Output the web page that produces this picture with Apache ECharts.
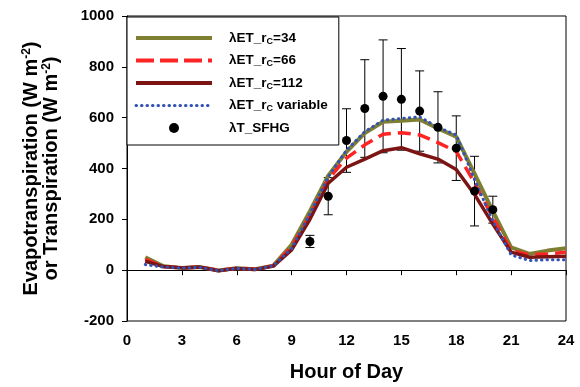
<!DOCTYPE html>
<html>
<head>
<meta charset="utf-8">
<script src="https://cdn.jsdelivr.net/npm/echarts@6/dist/echarts.min.js"></script>
<style>
html,body{margin:0;padding:0;background:#fff;}
#chart{width:580px;height:387px;}
</style>
</head>
<body>
<div id="chart"></div>
<script>
// ---- data ----
const hours = [1,2,3,4,5,6,7,8,9,10,11,12,13,14,15,16,17,18,19,20,21,22,23,24];
const et_rc34  = [51,15,9,12,-1,8,4,18,100,232,372,466,539,584,588,593,558,525,380,232,90,64,77,86];
const et_rc66  = [42,14,9,12,-1,8,4,17,92,215,358,441,493,535,541,532,502,467,344,207,77,60,64,71];
const et_rc112 = [35,14,9,12,-2,7,3,16,80,200,342,405,437,470,482,458,437,396,298,181,71,51,53,55];
const et_rcVar = [22,12,8,11,-2,7,3,17,85,222,367,472,545,590,597,603,562,532,356,194,60,38,41,41];
const obsHours = [10,11,12,13,14,15,16,17,18,19,20];
const obsMean  = [113,291,510,636,684,672,626,562,480,311,238];
const obsErr   = [24,73,125,192,222,200,158,140,127,137,53];
const xTicks = [0,3,6,9,12,15,18,21,24];
const yTicks = [-200,0,200,400,600,800,1000];
const seriesNames = ['λET_rc=34','λET_rc=66','λET_rc=112','λET_rc variable','λT_SFHG'];
const legendRich = {
  'λET_rc=34': '{g| }{t|λET_r}{s|C}{t|=34}',
  'λET_rc=66': '{g| }{t|λET_r}{s|C}{t|=66}',
  'λET_rc=112': '{g| }{t|λET_r}{s|C}{t|=112}',
  'λET_rc variable': '{g| }{t|λET_r}{s|C}{t| variable}',
  'λT_SFHG': '{g| }{t|λT_SFHG}'
};

const FONT = 'Liberation Sans, Arial, sans-serif';
const pair = (xs, ys) => xs.map((x, i) => [x, ys[i]]);
const errData = obsHours.map((h, i) => [h, obsMean[i] - obsErr[i], obsMean[i] + obsErr[i]]);
const hideSym = {color: 'rgba(0,0,0,0)', borderColor: 'rgba(0,0,0,0)', borderWidth: 0, opacity: 0};

const chart = echarts.init(document.getElementById('chart'), null, {renderer: 'canvas'});
chart.setOption({
  animation: false,
  backgroundColor: '#fff',
  grid: {left: 127, right: 14, top: 16, bottom: 65, show: true, borderColor: '#000', borderWidth: 1, backgroundColor: 'transparent'},
  xAxis: {
    type: 'value', min: xTicks[0], max: xTicks[xTicks.length - 1], interval: 3,
    name: 'Hour of Day', nameLocation: 'middle', nameGap: 41,
    nameTextStyle: {fontFamily: FONT, fontWeight: 'bold', fontSize: 20, color: '#000'},
    axisLine: {lineStyle: {color: '#000', width: 1}},
    axisTick: {show: true, length: 5, lineStyle: {color: '#000'}},
    axisLabel: {fontFamily: FONT, fontWeight: 'bold', fontSize: 15, color: '#000', margin: 12,
      formatter: v => String(v)},
    splitLine: {show: false}
  },
  yAxis: {
    type: 'value', min: yTicks[0], max: yTicks[yTicks.length - 1], interval: 200,
    name: '{t|Evapotranspiration (W m}{p|-2}{t|)}\n{t|or Transpiration (W m}{p|-2}{t|)}',
    nameLocation: 'middle', nameGap: 66,
    nameTextStyle: {
      fontFamily: FONT, fontWeight: 'bold', fontSize: 20, color: '#000', lineHeight: 20,
      rich: {
        t: {fontFamily: FONT, fontWeight: 'bold', fontSize: 20, color: '#000', lineHeight: 20},
        p: {fontFamily: FONT, fontWeight: 'bold', fontSize: 12, color: '#000', lineHeight: 10, verticalAlign: 'top'}
      }
    },
    axisLine: {show: true, lineStyle: {color: '#000', width: 1}},
    axisTick: {show: true, length: 5, lineStyle: {color: '#000'}},
    axisLabel: {fontFamily: FONT, fontWeight: 'bold', fontSize: 15, color: '#000', margin: 13,
      formatter: v => String(v)},
    splitLine: {show: false}
  },
  legend: {
    orient: 'vertical', left: 127, top: 17, padding: [13, 11, 9, 7],
    itemWidth: 76, itemHeight: 10, itemGap: 6.5,
    backgroundColor: '#fff', borderColor: '#000', borderWidth: 1, borderRadius: 0,
    data: [
      {name: seriesNames[0], itemStyle: hideSym, lineStyle: {width: 4}},
      {name: seriesNames[1], itemStyle: hideSym, lineStyle: {width: 4, type: [18, 6]}},
      {name: seriesNames[2], itemStyle: hideSym, lineStyle: {width: 4}},
      {name: seriesNames[3], itemStyle: hideSym, lineStyle: {width: 3, type: [0.5, 5], cap: 'round'}},
      {name: seriesNames[4]}
    ],
    formatter: name => legendRich[name],
    textStyle: {
      fontFamily: FONT, fontWeight: 'bold', fontSize: 13.5, color: '#000', lineHeight: 16,
      rich: {
        g: {width: 12, fontSize: 13.5, lineHeight: 16},
        t: {fontFamily: FONT, fontWeight: 'bold', fontSize: 13.5, color: '#000', lineHeight: 16},
        s: {fontFamily: FONT, fontWeight: 'bold', fontSize: 9, color: '#000', lineHeight: 10, verticalAlign: 'bottom'}
      }
    }
  },
  series: [
    {
      name: 'err', type: 'custom', z: 1, silent: true,
      data: errData,
      encode: {x: 0, y: [1, 2]},
      renderItem: function (params, api) {
        const x = api.value(0);
        const top = api.coord([x, api.value(2)]);
        const bot = api.coord([x, api.value(1)]);
        const cw = 4.5;
        const st = {stroke: '#000', lineWidth: 1};
        return {type: 'group', children: [
          {type: 'line', shape: {x1: top[0], y1: top[1], x2: bot[0], y2: bot[1]}, style: st},
          {type: 'line', shape: {x1: top[0] - cw, y1: top[1], x2: top[0] + cw, y2: top[1]}, style: st},
          {type: 'line', shape: {x1: bot[0] - cw, y1: bot[1], x2: bot[0] + cw, y2: bot[1]}, style: st}
        ]};
      }
    },
    {name: seriesNames[0], type: 'line', symbol: 'none', z: 2, data: pair(hours, et_rc34),
      lineStyle: {color: '#7f7f32', width: 4}, itemStyle: {color: '#7f7f32'}},
    {name: seriesNames[1], type: 'line', symbol: 'none', z: 3, data: pair(hours, et_rc66),
      lineStyle: {color: '#ff2424', width: 3.5, type: [13, 7]}, itemStyle: {color: '#ff2424'}},
    {name: seriesNames[2], type: 'line', symbol: 'none', z: 4, data: pair(hours, et_rc112),
      lineStyle: {color: '#7d1414', width: 3.5}, itemStyle: {color: '#7d1414'}},
    {name: seriesNames[3], type: 'line', symbol: 'none', z: 5, data: pair(hours, et_rcVar),
      lineStyle: {color: '#3352b5', width: 3, type: [0.5, 5], cap: 'round'}, itemStyle: {color: '#3352b5'}},
    {name: seriesNames[4], type: 'scatter', z: 6, symbol: 'circle', symbolSize: 9,
      data: pair(obsHours, obsMean), itemStyle: {color: '#000', opacity: 1}}
  ]
});
</script>
</body>
</html>
